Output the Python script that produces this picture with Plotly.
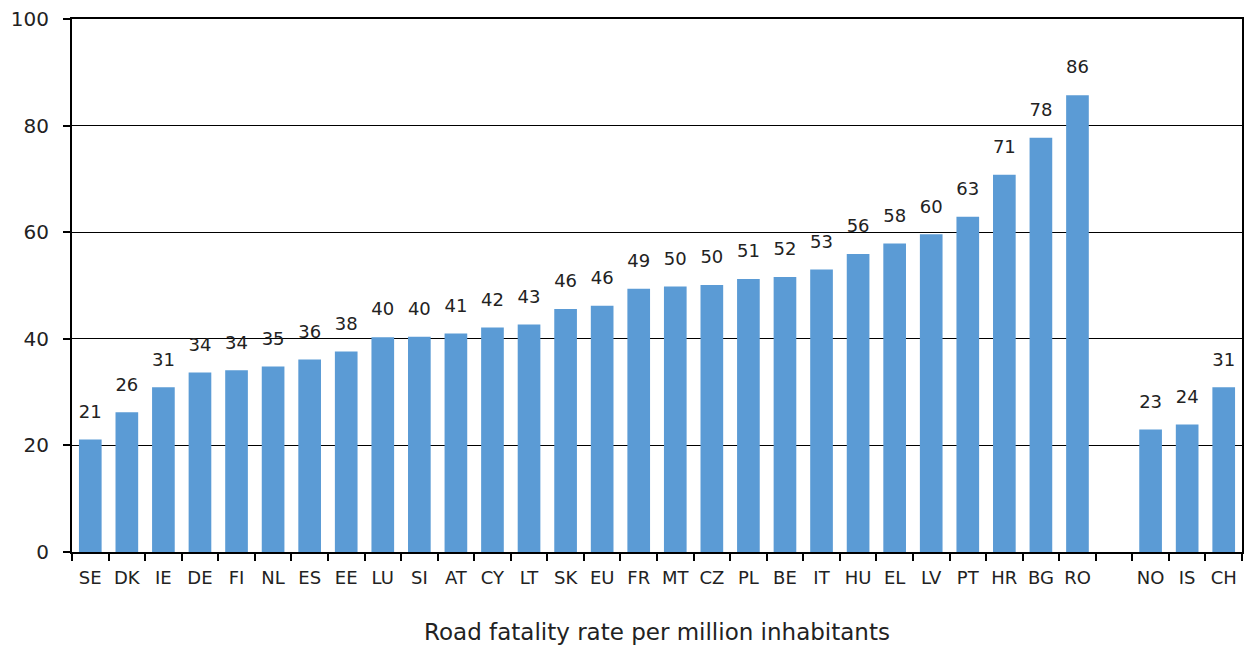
import plotly.graph_objects as go

countries = ["SE", "DK", "IE", "DE", "FI", "NL", "ES", "EE", "LU", "SI", "AT", "CY", "LT", "SK",
             "EU", "FR", "MT", "CZ", "PL", "BE", "IT", "HU", "EL", "LV", "PT", "HR", "BG", "RO",
             " ", "NO", "IS", "CH"]
rates = [21.1, 26.2, 30.9, 33.7, 34.1, 34.8, 36.1, 37.6, 40.3, 40.4, 41.0, 42.1, 42.7, 45.6,
         46.2, 49.4, 49.8, 50.1, 51.2, 51.6, 53.0, 55.9, 57.9, 59.6, 62.9, 70.8, 77.7, 85.7,
         None, 23.0, 23.9, 30.9]
y_ticks = [0, 20, 40, 60, 80, 100]
x_title = "Road fatality rate per million inhabitants"

FONT = "DejaVu Sans"
TXT = "#222222"

fig = go.Figure()
fig.add_trace(go.Bar(
    x=countries, y=rates,
    marker=dict(color="#5B9BD5", line=dict(width=0)),
    hoverinfo="x+y",
))
# value labels above the bars
fig.add_trace(go.Scatter(
    x=countries, y=rates, mode="markers+text",
    marker=dict(size=26, color="rgba(0,0,0,0)"),
    texttemplate="%{y:.0f}", textposition="top center",
    textfont=dict(family=FONT, size=18, color=TXT),
    cliponaxis=False, hoverinfo="skip",
))

fig.update_layout(
    width=1245, height=640,
    margin=dict(l=64, r=11, t=11, b=96),
    paper_bgcolor="white", plot_bgcolor="white",
    bargap=0.38,
    showlegend=False,
    font=dict(family=FONT, size=18, color=TXT),
    xaxis=dict(
        type="category", categoryorder="array", categoryarray=countries,
        range=[-0.5, len(countries) - 0.5],
        tickson="boundaries", ticks="outside", ticklen=7, tickcolor="black",
        tickwidth=2, showline=True, linecolor="black", linewidth=2, mirror=True,
        showgrid=False, automargin=False, ticklabelstandoff=8, tickangle=0,
        tickfont=dict(family=FONT, size=18, color=TXT),
        title=dict(text=x_title, font=dict(family=FONT, size=23, color=TXT), standoff=37),
    ),
    yaxis=dict(
        range=[0, 100], tickvals=y_ticks, ticks="outside", ticklen=7, tickcolor="black",
        tickwidth=2, showline=True, linecolor="black", linewidth=2, mirror=True,
        showgrid=True, gridcolor="black", gridwidth=1, zeroline=False, automargin=False,
        ticklabelstandoff=10, ticklabeloverflow="allow",
        tickfont=dict(family=FONT, size=20, color=TXT),
    ),
)

fig.write_html("out.html")
